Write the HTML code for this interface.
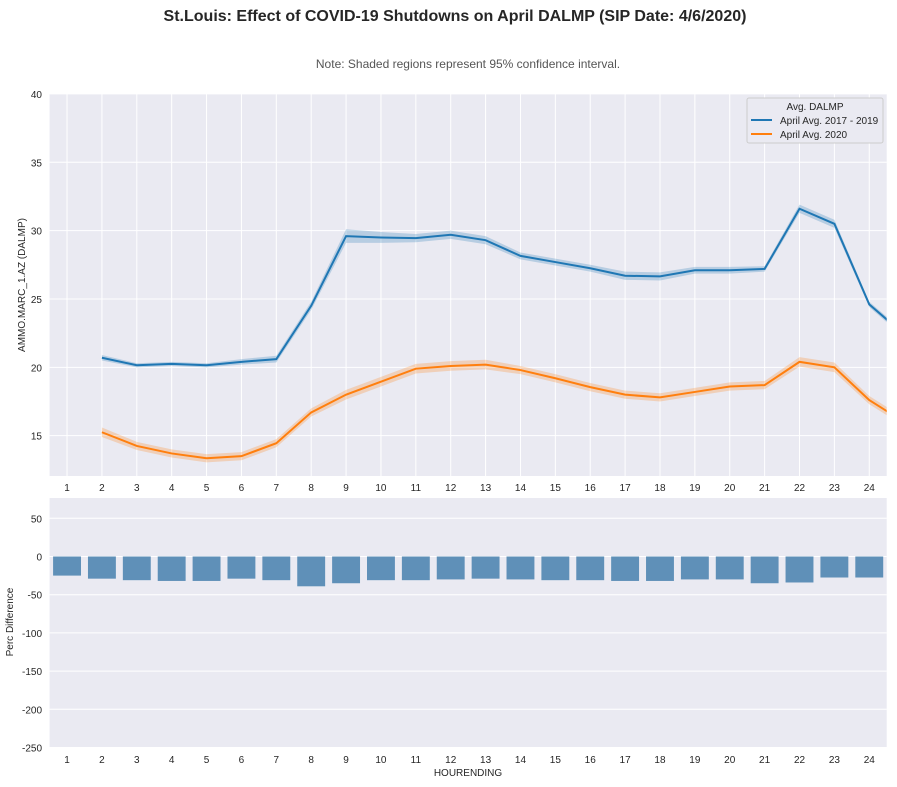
<!DOCTYPE html>
<html><head><meta charset="utf-8"><style>
body{margin:0;background:#fff;font-family:"Liberation Sans",Arial,sans-serif}
svg text{font-family:"Liberation Sans",Arial,sans-serif}
</style></head><body>
<svg id="c" width="897" height="782" xmlns="http://www.w3.org/2000/svg">
<text x="455" y="21" text-anchor="middle" font-size="16" font-weight="bold" fill="#262626">St.Louis: Effect of COVID-19 Shutdowns on April DALMP (SIP Date: 4/6/2020)</text>
<text x="468" y="68" text-anchor="middle" font-size="12" fill="#555">Note: Shaded regions represent 95% confidence interval.</text>
<g id="top"></g><g id="bot"></g>
</svg>
<script>
const hours = [2,3,4,5,6,7,8,9,10,11,12,13,14,15,16,17,18,19,20,21,22,23,24,25];
const blueVals = [20.7,20.15,20.25,20.15,20.4,20.6,24.5,29.6,29.5,29.45,29.7,29.3,28.15,27.7,27.25,26.7,26.65,27.1,27.1,27.2,31.6,30.5,24.6,22.4];
const orangeVals = [15.25,14.25,13.7,13.35,13.5,14.45,16.7,18.0,18.95,19.9,20.1,20.2,19.8,19.2,18.55,18.0,17.8,18.2,18.6,18.7,20.4,20.0,17.6,16.0];
const blueCI = [0.2,0.15,0.15,0.15,0.2,0.25,0.3,0.5,0.4,0.3,0.3,0.3,0.25,0.25,0.25,0.3,0.3,0.25,0.25,0.2,0.3,0.3,0.2,0.2];
const orangeCI = [0.35,0.3,0.3,0.3,0.3,0.3,0.3,0.35,0.35,0.35,0.35,0.35,0.3,0.3,0.3,0.3,0.3,0.3,0.3,0.3,0.35,0.35,0.3,0.3];
const topTicks = [15,20,25,30,35,40];
const barCats = [1,2,3,4,5,6,7,8,9,10,11,12,13,14,15,16,17,18,19,20,21,22,23,24];
const barVals = [-25,-29,-31,-32,-32,-29,-31,-39,-35,-31,-31,-30,-29,-30,-31,-31,-32,-32,-30,-30,-35,-34,-27.5,-27.5];
const botTicks = [50,0,-50,-100,-150,-200,-250];

const NS='http://www.w3.org/2000/svg';
function mk(p,t,a){const e=document.createElementNS(NS,t);for(const k in a)e.setAttribute(k,a[k]);p.appendChild(e);return e;}
const L=49.6,R=886.7;
const x=h=>L+(h-0.5)/24*(R-L);
// top
const T=document.getElementById('top');
const yT=v=>476-(v-12.05)*13.67;
let bg=mk(T,'rect',{x:L,y:94,width:R-L,height:382,fill:'#eaeaf2'});

mk(T,'clipPath',{id:'cp'}).appendChild(document.createElementNS(NS,'rect'));
const cr=document.querySelector('#cp rect');cr.setAttribute('x',L);cr.setAttribute('y',94);cr.setAttribute('width',R-L);cr.setAttribute('height',382);
for(const v of topTicks){mk(T,'line',{x1:L,x2:R,y1:yT(v),y2:yT(v),stroke:'#fff','stroke-width':1});
 const t=mk(T,'text',{x:42,y:yT(v)+4,'text-anchor':'end','font-size':10,fill:'#262626'});t.textContent=v;
 }
for(const h of barCats){mk(T,'line',{x1:x(h),x2:x(h),y1:94,y2:476,stroke:'#fff','stroke-width':1});
 const t=mk(T,'text',{x:x(h),y:491,'text-anchor':'middle','font-size':10,fill:'#262626'});t.textContent=h;
 }
const g=mk(T,'g',{'clip-path':'url(#cp)'});
function series(vals,ci,col,name){
 let up=hours.map((h,i)=>x(h)+','+yT(vals[i]+ci[i])).join(' ');
 let dn=hours.map((h,i)=>x(h)+','+yT(vals[i]-ci[i])).reverse().join(' ');
 const b=mk(g,'polygon',{points:up+' '+dn,fill:col,'fill-opacity':0.25});
 
 const l=mk(g,'polyline',{points:hours.map((h,i)=>x(h)+','+yT(vals[i])).join(' '),fill:'none',stroke:col,'stroke-width':2});
 
}
series(blueVals,blueCI,'#1f77b4','avg-2017-2019');
series(orangeVals,orangeCI,'#ff7f0e','avg-2020');
let yl=mk(T,'text',{x:0,y:0,transform:'translate(25,285) rotate(-90)','text-anchor':'middle','font-size':10,fill:'#262626'});yl.textContent='AMMO.MARC_1.AZ (DALMP)';

const lg=mk(T,'g',{});
mk(lg,'rect',{x:747,y:98,width:136,height:45,fill:'#eaeaf2',stroke:'#cccccc','stroke-width':1,rx:2});
let lt=mk(lg,'text',{x:815,y:110,'text-anchor':'middle','font-size':10,fill:'#262626'});lt.textContent='Avg. DALMP';
mk(lg,'line',{x1:751,x2:772,y1:120,y2:120,stroke:'#1f77b4','stroke-width':2});
let l1=mk(lg,'text',{x:780,y:124,'font-size':10,fill:'#262626'});l1.textContent='April Avg. 2017 - 2019';

mk(lg,'line',{x1:751,x2:772,y1:134,y2:134,stroke:'#ff7f0e','stroke-width':2});
let l2=mk(lg,'text',{x:780,y:138,'font-size':10,fill:'#262626'});l2.textContent='April Avg. 2020';

// bottom
const B=document.getElementById('bot');
const yB=v=>556.5-v*38.2/50;
let bb=mk(B,'rect',{x:L,y:498,width:R-L,height:249,fill:'#eaeaf2'});

for(const v of botTicks){mk(B,'line',{x1:L,x2:R,y1:yB(v),y2:yB(v),stroke:'#fff','stroke-width':1});
 const t=mk(B,'text',{x:42,y:yB(v)+4,'text-anchor':'end','font-size':10,fill:'#262626'});t.textContent=v;
 }
const bw=(R-L)/24*0.8;
barCats.forEach((c,i)=>{const v=barVals[i];
 const r=mk(B,'rect',{x:x(c)-bw/2,y:Math.min(yB(0),yB(v)),width:bw,height:Math.abs(yB(v)-yB(0)),fill:'#5f90b8'});
 
 const t=mk(B,'text',{x:x(c),y:763,'text-anchor':'middle','font-size':10,fill:'#262626'});t.textContent=c;
 });
let xl=mk(B,'text',{x:468,y:776,'text-anchor':'middle','font-size':10,fill:'#262626'});xl.textContent='HOURENDING';

let yl2=mk(B,'text',{x:0,y:0,transform:'translate(13,622) rotate(-90)','text-anchor':'middle','font-size':10,fill:'#262626'});yl2.textContent='Perc Difference';

</script>
</body></html>
